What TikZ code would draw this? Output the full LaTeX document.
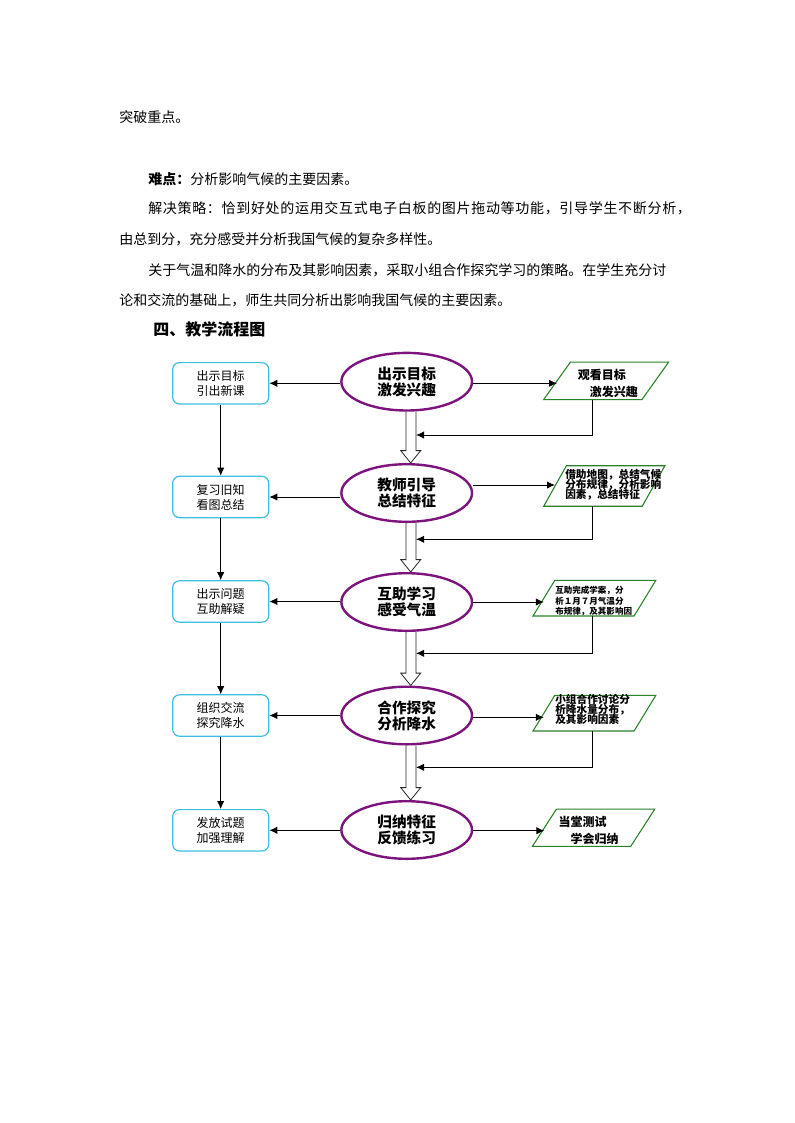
\documentclass[tikz,border=0pt]{standalone}
\usepackage{fontspec}
\setmainfont{Noto Sans CJK SC}
\usetikzlibrary{calc,arrows.meta,shapes.geometric}
\definecolor{boxcyan}{RGB}{60,190,225}
\definecolor{ellpurple}{RGB}{125,20,125}
\definecolor{paragreen}{RGB}{40,130,40}
\newcommand\tightlines{\lineskiplimit=-100pt\relax}
\tikzset{
  body/.style={anchor=west, inner sep=0pt, font=\fontsize{10.5}{12}\selectfont},
  lbox/.style={draw=boxcyan, line width=0.9pt, rounded corners=5pt, minimum width=72pt, minimum height=31pt,
    align=center, inner sep=0pt, font=\fontsize{9}{11.25}\selectfont},
  ell/.style={ellipse, draw=ellpurple, line width=1.8pt, minimum width=98pt, minimum height=43.2pt,
    align=center, inner sep=0pt, font=\fontsize{11}{12}\selectfont\bfseries},
  parabox/.style={rectangle, draw=none, inner sep=0pt},
  paraline/.style={draw=paragreen, line width=0.8pt},
  ptext/.style={anchor=west, inner sep=0pt, align=left},
  arr/.style={line width=0.75pt, -{Latex[length=6pt,width=5.5pt]}},
  hollow/.style={line width=0.6pt, draw=black!85},
}
\begin{document}
\begin{tikzpicture}[x=0.75pt,y=-0.75pt]
\useasboundingbox[fill=white] (0,0) rectangle (794,1123);

% body text
\node[body] (l1) at (119.2,116.7) {突破重点。};
\node[body] (l2) at (148,179.3) {\textbf{难点：}分析影响气候的主要因素。};
\node[body] (l3) at (148,208.3) {\addfontfeatures{LetterSpace=4.9}解决策略：恰到好处的运用交互式电子白板的图片拖动等功能，引导学生不断分析，};
\node[body] (l4) at (119.2,239) {由总到分，充分感受并分析我国气候的复杂多样性。};
\node[body] (l5) at (148,270) {关于气温和降水的分布及其影响因素，采取小组合作探究学习的策略。在学生充分讨};
\node[body] (l6) at (119.2,300.7) {论和交流的基础上，师生共同分析出影响我国气候的主要因素。};
\node[body, font=\fontsize{12}{14}\selectfont\bfseries] (h) at (153,329.3) {四、教学流程图};

% left boxes
\node[lbox] (b1) at (220.7,383.3) {出示目标\\引出新课};
\node[lbox] (b2) at (220.7,497) {复习旧知\\看图总结};
\node[lbox] (b3) at (220.7,601.5) {出示问题\\互助解疑};
\node[lbox] (b4) at (220.7,715.5) {组织交流\\探究降水};
\node[lbox] (b5) at (220.7,830.3) {发放试题\\加强理解};

% ellipses
\node[ell] (e1) at (406.7,381.7) {出示目标\\激发兴趣};
\node[ell] (e2) at (406.7,493) {教师引导\\总结特征};
\node[ell] (e3) at (406.7,602) {互助学习\\感受气温};
\node[ell] (e4) at (406.7,715.5) {合作探究\\分析降水};
\node[ell] (e5) at (406.7,830) {归纳特征\\反馈练习};

% parallelograms (bodies)
\node[parabox, minimum width=73.3pt, minimum height=27.75pt] (p1) at (606.2,380.8) {};
\node[parabox, minimum width=73.5pt, minimum height=30pt] (p2) at (604.3,486) {};
\node[parabox, minimum width=75.4pt, minimum height=26.25pt] (p3) at (594.4,598.2) {};
\node[parabox, minimum width=75.4pt, minimum height=26.25pt] (p4) at (594.4,713.2) {};
\node[parabox, minimum width=73.35pt, minimum height=27.5pt] (p5) at (593.6,827.7) {};
\foreach \n/\s in {p1/13.35,p2/11.35,p3/10.85,p4/10.85,p5/12}{
  \draw[paraline] ($(\n.south west)+(-\s,0)$) -- ($(\n.north west)+(\s,0)$)
    -- ($(\n.north east)+(\s,0)$) -- ($(\n.south east)+(-\s,0)$) -- cycle;
}

% parallelogram texts
\node[ptext, font=\fontsize{9}{12.5}\selectfont\bfseries] (t1) at (577.7,383.3) {观看目标\\\hspace*{9pt}激发兴趣};
\node[ptext, font=\fontsize{8}{7.5}\selectfont\bfseries\tightlines] (t2) at (565,485) {借助地图，总结气候\\分布规律，分析影响\\因素，总结特征};
\node[ptext, font=\fontsize{6.4}{7.9}\selectfont\bfseries\tightlines] (t3) at (555,601.3) {互助完成学案，分\\析１月７月气温分\\布规律，及其影响因};
\node[ptext, font=\fontsize{8}{7.5}\selectfont\bfseries\tightlines] (t4) at (555,709) {小组合作讨论分\\析降水量分布，\\及其影响因素};
\node[ptext, font=\fontsize{9}{12.5}\selectfont\bfseries] (t5) at (558.3,830.6) {当堂测试\\\hspace*{9pt}学会归纳};

% row heights for right arrows
\coordinate (r1) at (0,383.3);
\coordinate (r2) at (0,485);
\coordinate (r3) at (0,602);
\coordinate (r4) at (0,717.3);
\coordinate (r5) at (0,830.7);

% feedback targets
\coordinate (fx) at (592.3,0);
\coordinate (f1) at (416,435);
\coordinate (f2) at (416,539.3);
\coordinate (f3) at (416,653.3);
\coordinate (f4) at (416,767.3);

% arrows left and right
\foreach \i in {1,...,5}{
  \draw[arr] (e\i.west |- b\i.east) -- (b\i.east);
  \draw[arr] (e\i.east |- r\i) -- (p\i.west |- r\i);
}
% vertical arrows between left boxes
\foreach \i/\j in {1/2,2/3,3/4,4/5}{
  \draw[arr] (b\i) -- (b\j);
}
% hollow double arrows between ellipses
\foreach \i/\j in {1/2,2/3,3/4,4/5}{
  \draw[hollow] ($(e\i.south)+(-0.7,0)$) -- ($(e\j.north)+(-0.7,-12.4)$) -- ($(e\j.north)+(-6,-12.4)$)
    -- ($(e\j.north)+(4,0)$) -- ($(e\j.north)+(14,-12.4)$) -- ($(e\j.north)+(9.3,-12.4)$)
    -- ($(e\i.south)+(9.3,0)$);
}
% feedback arrows
\foreach \i in {1,...,4}{
  \draw[arr] (p\i.south -| fx) |- (f\i);
}
\end{tikzpicture}
\end{document}
